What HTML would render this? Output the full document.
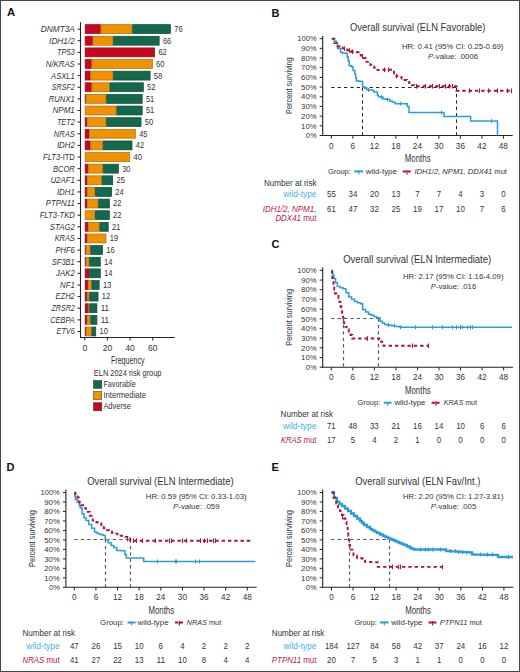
<!DOCTYPE html>
<html><head><meta charset="utf-8"><style>
html,body{margin:0;padding:0;background:#fff;}
body{width:520px;height:672px;overflow:hidden;}
svg{display:block;font-family:"Liberation Sans", sans-serif;}
</style></head><body>
<svg width="520" height="672" viewBox="0 0 520 672">
<rect x="0" y="0" width="520" height="672" fill="#fff"/>
<text x="7.1" y="16.2" font-size="11.3" font-weight="bold" fill="#111">A</text>
<line x1="80.50" y1="22.30" x2="80.50" y2="337.50" stroke="#222" stroke-width="1.1"/>
<line x1="80.00" y1="337.50" x2="174.70" y2="337.50" stroke="#222" stroke-width="1.1"/>
<line x1="77.50" y1="29.10" x2="80.50" y2="29.10" stroke="#222" stroke-width="1"/>
<text x="40.80" y="32.00" font-size="8.4" fill="#333" font-style="italic" textLength="34.00" lengthAdjust="spacingAndGlyphs">DNMT3A</text>
<rect x="85.15" y="24.65" width="15.15" height="8.90" fill="#c8061f" stroke="#8a0a1e" stroke-width="0.7"/>
<rect x="101.00" y="24.65" width="31.00" height="8.90" fill="#f09100" stroke="#b86a00" stroke-width="0.7"/>
<rect x="132.69" y="24.65" width="37.79" height="8.90" fill="#14684c" stroke="#0b4a35" stroke-width="0.7"/>
<text x="174.23" y="32.00" font-size="8.5" fill="#333" textLength="8.40" lengthAdjust="spacingAndGlyphs">76</text>
<line x1="77.50" y1="40.73" x2="80.50" y2="40.73" stroke="#222" stroke-width="1"/>
<text x="49.10" y="43.63" font-size="8.4" fill="#333" font-style="italic" textLength="25.70" lengthAdjust="spacingAndGlyphs">IDH1/2</text>
<rect x="85.15" y="36.28" width="7.22" height="8.90" fill="#c8061f" stroke="#8a0a1e" stroke-width="0.7"/>
<rect x="93.07" y="36.28" width="19.68" height="8.90" fill="#f09100" stroke="#b86a00" stroke-width="0.7"/>
<rect x="113.45" y="36.28" width="45.71" height="8.90" fill="#14684c" stroke="#0b4a35" stroke-width="0.7"/>
<text x="162.91" y="43.63" font-size="8.5" fill="#333" textLength="8.40" lengthAdjust="spacingAndGlyphs">66</text>
<line x1="77.50" y1="52.36" x2="80.50" y2="52.36" stroke="#222" stroke-width="1"/>
<text x="56.90" y="55.26" font-size="8.4" fill="#333" font-style="italic" textLength="17.90" lengthAdjust="spacingAndGlyphs">TP53</text>
<rect x="85.15" y="47.91" width="69.48" height="8.90" fill="#c8061f" stroke="#8a0a1e" stroke-width="0.7"/>
<text x="158.38" y="55.26" font-size="8.5" fill="#333" textLength="8.40" lengthAdjust="spacingAndGlyphs">62</text>
<line x1="77.50" y1="63.99" x2="80.50" y2="63.99" stroke="#222" stroke-width="1"/>
<text x="45.80" y="66.89" font-size="8.4" fill="#333" font-style="italic" textLength="29.00" lengthAdjust="spacingAndGlyphs">N/KRAS</text>
<rect x="85.15" y="59.54" width="6.09" height="8.90" fill="#c8061f" stroke="#8a0a1e" stroke-width="0.7"/>
<rect x="91.94" y="59.54" width="60.43" height="8.90" fill="#f09100" stroke="#b86a00" stroke-width="0.7"/>
<text x="156.12" y="66.89" font-size="8.5" fill="#333" textLength="8.40" lengthAdjust="spacingAndGlyphs">60</text>
<line x1="77.50" y1="75.62" x2="80.50" y2="75.62" stroke="#222" stroke-width="1"/>
<text x="51.10" y="78.52" font-size="8.4" fill="#333" font-style="italic" textLength="23.70" lengthAdjust="spacingAndGlyphs">ASXL1</text>
<rect x="85.15" y="71.17" width="4.96" height="8.90" fill="#c8061f" stroke="#8a0a1e" stroke-width="0.7"/>
<rect x="90.81" y="71.17" width="21.94" height="8.90" fill="#f09100" stroke="#b86a00" stroke-width="0.7"/>
<rect x="113.45" y="71.17" width="36.66" height="8.90" fill="#14684c" stroke="#0b4a35" stroke-width="0.7"/>
<text x="153.86" y="78.52" font-size="8.5" fill="#333" textLength="8.40" lengthAdjust="spacingAndGlyphs">58</text>
<line x1="77.50" y1="87.25" x2="80.50" y2="87.25" stroke="#222" stroke-width="1"/>
<text x="51.80" y="90.15" font-size="8.4" fill="#333" font-style="italic" textLength="23.00" lengthAdjust="spacingAndGlyphs">SRSF2</text>
<rect x="85.15" y="82.80" width="6.09" height="8.90" fill="#c8061f" stroke="#8a0a1e" stroke-width="0.7"/>
<rect x="91.94" y="82.80" width="17.41" height="8.90" fill="#f09100" stroke="#b86a00" stroke-width="0.7"/>
<rect x="110.05" y="82.80" width="33.26" height="8.90" fill="#14684c" stroke="#0b4a35" stroke-width="0.7"/>
<text x="147.06" y="90.15" font-size="8.5" fill="#333" textLength="8.40" lengthAdjust="spacingAndGlyphs">52</text>
<line x1="77.50" y1="98.88" x2="80.50" y2="98.88" stroke="#222" stroke-width="1"/>
<text x="48.80" y="101.78" font-size="8.4" fill="#333" font-style="italic" textLength="26.00" lengthAdjust="spacingAndGlyphs">RUNX1</text>
<rect x="85.15" y="94.43" width="0.43" height="8.90" fill="#c8061f" stroke="#8a0a1e" stroke-width="0.7"/>
<rect x="86.28" y="94.43" width="19.68" height="8.90" fill="#f09100" stroke="#b86a00" stroke-width="0.7"/>
<rect x="106.66" y="94.43" width="35.52" height="8.90" fill="#14684c" stroke="#0b4a35" stroke-width="0.7"/>
<text x="145.93" y="101.78" font-size="8.5" fill="#333" textLength="8.40" lengthAdjust="spacingAndGlyphs">51</text>
<line x1="77.50" y1="110.51" x2="80.50" y2="110.51" stroke="#222" stroke-width="1"/>
<text x="52.50" y="113.41" font-size="8.4" fill="#333" font-style="italic" textLength="22.30" lengthAdjust="spacingAndGlyphs">NPM1</text>
<rect x="85.15" y="106.06" width="31.00" height="8.90" fill="#f09100" stroke="#b86a00" stroke-width="0.7"/>
<rect x="116.85" y="106.06" width="25.34" height="8.90" fill="#14684c" stroke="#0b4a35" stroke-width="0.7"/>
<text x="145.93" y="113.41" font-size="8.5" fill="#333" textLength="8.40" lengthAdjust="spacingAndGlyphs">51</text>
<line x1="77.50" y1="122.14" x2="80.50" y2="122.14" stroke="#222" stroke-width="1"/>
<text x="56.90" y="125.04" font-size="8.4" fill="#333" font-style="italic" textLength="17.90" lengthAdjust="spacingAndGlyphs">TET2</text>
<rect x="85.15" y="117.69" width="1.56" height="8.90" fill="#c8061f" stroke="#8a0a1e" stroke-width="0.7"/>
<rect x="87.41" y="117.69" width="18.54" height="8.90" fill="#f09100" stroke="#b86a00" stroke-width="0.7"/>
<rect x="106.66" y="117.69" width="34.39" height="8.90" fill="#14684c" stroke="#0b4a35" stroke-width="0.7"/>
<text x="144.80" y="125.04" font-size="8.5" fill="#333" textLength="8.40" lengthAdjust="spacingAndGlyphs">50</text>
<line x1="77.50" y1="133.77" x2="80.50" y2="133.77" stroke="#222" stroke-width="1"/>
<text x="53.80" y="136.67" font-size="8.4" fill="#333" font-style="italic" textLength="21.00" lengthAdjust="spacingAndGlyphs">NRAS</text>
<rect x="85.15" y="129.32" width="3.83" height="8.90" fill="#c8061f" stroke="#8a0a1e" stroke-width="0.7"/>
<rect x="89.68" y="129.32" width="45.71" height="8.90" fill="#f09100" stroke="#b86a00" stroke-width="0.7"/>
<text x="139.14" y="136.67" font-size="8.5" fill="#333" textLength="8.40" lengthAdjust="spacingAndGlyphs">45</text>
<line x1="77.50" y1="145.40" x2="80.50" y2="145.40" stroke="#222" stroke-width="1"/>
<text x="56.90" y="148.30" font-size="8.4" fill="#333" font-style="italic" textLength="17.90" lengthAdjust="spacingAndGlyphs">IDH2</text>
<rect x="85.15" y="140.95" width="4.96" height="8.90" fill="#c8061f" stroke="#8a0a1e" stroke-width="0.7"/>
<rect x="90.81" y="140.95" width="11.75" height="8.90" fill="#f09100" stroke="#b86a00" stroke-width="0.7"/>
<rect x="103.26" y="140.95" width="28.73" height="8.90" fill="#14684c" stroke="#0b4a35" stroke-width="0.7"/>
<text x="135.74" y="148.30" font-size="8.5" fill="#333" textLength="8.40" lengthAdjust="spacingAndGlyphs">42</text>
<line x1="77.50" y1="157.03" x2="80.50" y2="157.03" stroke="#222" stroke-width="1"/>
<text x="43.10" y="159.93" font-size="8.4" fill="#333" font-style="italic" textLength="31.70" lengthAdjust="spacingAndGlyphs">FLT3<tspan font-style="normal">-ITD</tspan></text>
<rect x="85.15" y="152.58" width="44.58" height="8.90" fill="#f09100" stroke="#b86a00" stroke-width="0.7"/>
<text x="133.48" y="159.93" font-size="8.5" fill="#333" textLength="8.40" lengthAdjust="spacingAndGlyphs">40</text>
<line x1="77.50" y1="168.66" x2="80.50" y2="168.66" stroke="#222" stroke-width="1"/>
<text x="52.90" y="171.56" font-size="8.4" fill="#333" font-style="italic" textLength="21.90" lengthAdjust="spacingAndGlyphs">BCOR</text>
<rect x="85.15" y="164.21" width="2.70" height="8.90" fill="#c8061f" stroke="#8a0a1e" stroke-width="0.7"/>
<rect x="88.55" y="164.21" width="14.02" height="8.90" fill="#f09100" stroke="#b86a00" stroke-width="0.7"/>
<rect x="103.26" y="164.21" width="15.15" height="8.90" fill="#14684c" stroke="#0b4a35" stroke-width="0.7"/>
<text x="122.16" y="171.56" font-size="8.5" fill="#333" textLength="8.40" lengthAdjust="spacingAndGlyphs">30</text>
<line x1="77.50" y1="180.29" x2="80.50" y2="180.29" stroke="#222" stroke-width="1"/>
<text x="50.40" y="183.19" font-size="8.4" fill="#333" font-style="italic" textLength="24.40" lengthAdjust="spacingAndGlyphs">U2AF1</text>
<rect x="85.15" y="175.84" width="1.56" height="8.90" fill="#c8061f" stroke="#8a0a1e" stroke-width="0.7"/>
<rect x="87.41" y="175.84" width="14.02" height="8.90" fill="#f09100" stroke="#b86a00" stroke-width="0.7"/>
<rect x="102.13" y="175.84" width="10.62" height="8.90" fill="#14684c" stroke="#0b4a35" stroke-width="0.7"/>
<text x="116.50" y="183.19" font-size="8.5" fill="#333" textLength="8.40" lengthAdjust="spacingAndGlyphs">25</text>
<line x1="77.50" y1="191.92" x2="80.50" y2="191.92" stroke="#222" stroke-width="1"/>
<text x="56.90" y="194.82" font-size="8.4" fill="#333" font-style="italic" textLength="17.90" lengthAdjust="spacingAndGlyphs">IDH1</text>
<rect x="85.15" y="187.47" width="1.56" height="8.90" fill="#c8061f" stroke="#8a0a1e" stroke-width="0.7"/>
<rect x="87.41" y="187.47" width="7.22" height="8.90" fill="#f09100" stroke="#b86a00" stroke-width="0.7"/>
<rect x="95.34" y="187.47" width="16.28" height="8.90" fill="#14684c" stroke="#0b4a35" stroke-width="0.7"/>
<text x="115.37" y="194.82" font-size="8.5" fill="#333" textLength="8.40" lengthAdjust="spacingAndGlyphs">24</text>
<line x1="77.50" y1="203.55" x2="80.50" y2="203.55" stroke="#222" stroke-width="1"/>
<text x="45.80" y="206.45" font-size="8.4" fill="#333" font-style="italic" textLength="29.00" lengthAdjust="spacingAndGlyphs">PTPN11</text>
<rect x="85.15" y="199.10" width="1.56" height="8.90" fill="#c8061f" stroke="#8a0a1e" stroke-width="0.7"/>
<rect x="87.41" y="199.10" width="10.62" height="8.90" fill="#f09100" stroke="#b86a00" stroke-width="0.7"/>
<rect x="98.73" y="199.10" width="10.62" height="8.90" fill="#14684c" stroke="#0b4a35" stroke-width="0.7"/>
<text x="113.10" y="206.45" font-size="8.5" fill="#333" textLength="8.40" lengthAdjust="spacingAndGlyphs">22</text>
<line x1="77.50" y1="215.18" x2="80.50" y2="215.18" stroke="#222" stroke-width="1"/>
<text x="39.70" y="218.08" font-size="8.4" fill="#333" font-style="italic" textLength="35.10" lengthAdjust="spacingAndGlyphs">FLT3-TKD</text>
<rect x="85.15" y="210.73" width="9.49" height="8.90" fill="#f09100" stroke="#b86a00" stroke-width="0.7"/>
<rect x="95.34" y="210.73" width="14.02" height="8.90" fill="#14684c" stroke="#0b4a35" stroke-width="0.7"/>
<text x="113.10" y="218.08" font-size="8.5" fill="#333" textLength="8.40" lengthAdjust="spacingAndGlyphs">22</text>
<line x1="77.50" y1="226.81" x2="80.50" y2="226.81" stroke="#222" stroke-width="1"/>
<text x="49.80" y="229.71" font-size="8.4" fill="#333" font-style="italic" textLength="25.00" lengthAdjust="spacingAndGlyphs">STAG2</text>
<rect x="85.15" y="222.36" width="2.70" height="8.90" fill="#c8061f" stroke="#8a0a1e" stroke-width="0.7"/>
<rect x="88.55" y="222.36" width="10.62" height="8.90" fill="#f09100" stroke="#b86a00" stroke-width="0.7"/>
<rect x="99.87" y="222.36" width="8.36" height="8.90" fill="#14684c" stroke="#0b4a35" stroke-width="0.7"/>
<text x="111.97" y="229.71" font-size="8.5" fill="#333" textLength="8.40" lengthAdjust="spacingAndGlyphs">21</text>
<line x1="77.50" y1="238.44" x2="80.50" y2="238.44" stroke="#222" stroke-width="1"/>
<text x="54.70" y="241.34" font-size="8.4" fill="#333" font-style="italic" textLength="20.10" lengthAdjust="spacingAndGlyphs">KRAS</text>
<rect x="85.15" y="233.99" width="1.56" height="8.90" fill="#c8061f" stroke="#8a0a1e" stroke-width="0.7"/>
<rect x="87.41" y="233.99" width="18.54" height="8.90" fill="#f09100" stroke="#b86a00" stroke-width="0.7"/>
<text x="109.71" y="241.34" font-size="8.5" fill="#333" textLength="8.40" lengthAdjust="spacingAndGlyphs">19</text>
<line x1="77.50" y1="250.07" x2="80.50" y2="250.07" stroke="#222" stroke-width="1"/>
<text x="55.50" y="252.97" font-size="8.4" fill="#333" font-style="italic" textLength="19.30" lengthAdjust="spacingAndGlyphs">PHF6</text>
<rect x="85.15" y="245.62" width="0.43" height="8.90" fill="#c8061f" stroke="#8a0a1e" stroke-width="0.7"/>
<rect x="86.28" y="245.62" width="3.83" height="8.90" fill="#f09100" stroke="#b86a00" stroke-width="0.7"/>
<rect x="90.81" y="245.62" width="11.75" height="8.90" fill="#14684c" stroke="#0b4a35" stroke-width="0.7"/>
<text x="106.31" y="252.97" font-size="8.5" fill="#333" textLength="8.40" lengthAdjust="spacingAndGlyphs">16</text>
<line x1="77.50" y1="261.70" x2="80.50" y2="261.70" stroke="#222" stroke-width="1"/>
<text x="51.80" y="264.60" font-size="8.4" fill="#333" font-style="italic" textLength="23.00" lengthAdjust="spacingAndGlyphs">SF3B1</text>
<rect x="85.15" y="257.25" width="0.43" height="8.90" fill="#c8061f" stroke="#8a0a1e" stroke-width="0.7"/>
<rect x="86.28" y="257.25" width="2.70" height="8.90" fill="#f09100" stroke="#b86a00" stroke-width="0.7"/>
<rect x="89.68" y="257.25" width="10.62" height="8.90" fill="#14684c" stroke="#0b4a35" stroke-width="0.7"/>
<text x="104.05" y="264.60" font-size="8.5" fill="#333" textLength="8.40" lengthAdjust="spacingAndGlyphs">14</text>
<line x1="77.50" y1="273.33" x2="80.50" y2="273.33" stroke="#222" stroke-width="1"/>
<text x="56.10" y="276.23" font-size="8.4" fill="#333" font-style="italic" textLength="18.70" lengthAdjust="spacingAndGlyphs">JAK2</text>
<rect x="85.15" y="268.88" width="3.83" height="8.90" fill="#c8061f" stroke="#8a0a1e" stroke-width="0.7"/>
<rect x="89.68" y="268.88" width="10.62" height="8.90" fill="#14684c" stroke="#0b4a35" stroke-width="0.7"/>
<text x="104.05" y="276.23" font-size="8.5" fill="#333" textLength="8.40" lengthAdjust="spacingAndGlyphs">14</text>
<line x1="77.50" y1="284.96" x2="80.50" y2="284.96" stroke="#222" stroke-width="1"/>
<text x="60.10" y="287.86" font-size="8.4" fill="#333" font-style="italic" textLength="14.70" lengthAdjust="spacingAndGlyphs">NF1</text>
<rect x="85.15" y="280.51" width="2.70" height="8.90" fill="#c8061f" stroke="#8a0a1e" stroke-width="0.7"/>
<rect x="88.55" y="280.51" width="2.70" height="8.90" fill="#f09100" stroke="#b86a00" stroke-width="0.7"/>
<rect x="91.94" y="280.51" width="7.22" height="8.90" fill="#14684c" stroke="#0b4a35" stroke-width="0.7"/>
<text x="102.92" y="287.86" font-size="8.5" fill="#333" textLength="8.40" lengthAdjust="spacingAndGlyphs">13</text>
<line x1="77.50" y1="296.59" x2="80.50" y2="296.59" stroke="#222" stroke-width="1"/>
<text x="55.50" y="299.49" font-size="8.4" fill="#333" font-style="italic" textLength="19.30" lengthAdjust="spacingAndGlyphs">EZH2</text>
<rect x="85.15" y="292.14" width="1.56" height="8.90" fill="#c8061f" stroke="#8a0a1e" stroke-width="0.7"/>
<rect x="87.41" y="292.14" width="1.56" height="8.90" fill="#f09100" stroke="#b86a00" stroke-width="0.7"/>
<rect x="89.68" y="292.14" width="8.36" height="8.90" fill="#14684c" stroke="#0b4a35" stroke-width="0.7"/>
<text x="101.78" y="299.49" font-size="8.5" fill="#333" textLength="8.40" lengthAdjust="spacingAndGlyphs">12</text>
<line x1="77.50" y1="308.22" x2="80.50" y2="308.22" stroke="#222" stroke-width="1"/>
<text x="51.50" y="311.12" font-size="8.4" fill="#333" font-style="italic" textLength="23.30" lengthAdjust="spacingAndGlyphs">ZRSR2</text>
<rect x="85.15" y="303.77" width="2.70" height="8.90" fill="#c8061f" stroke="#8a0a1e" stroke-width="0.7"/>
<rect x="88.55" y="303.77" width="0.43" height="8.90" fill="#f09100" stroke="#b86a00" stroke-width="0.7"/>
<rect x="89.68" y="303.77" width="7.22" height="8.90" fill="#14684c" stroke="#0b4a35" stroke-width="0.7"/>
<text x="100.65" y="311.12" font-size="8.5" fill="#333" textLength="8.40" lengthAdjust="spacingAndGlyphs">11</text>
<line x1="77.50" y1="319.85" x2="80.50" y2="319.85" stroke="#222" stroke-width="1"/>
<text x="50.20" y="322.75" font-size="8.4" fill="#333" font-style="italic" textLength="24.60" lengthAdjust="spacingAndGlyphs">CEBPA</text>
<rect x="85.15" y="315.40" width="1.56" height="8.90" fill="#c8061f" stroke="#8a0a1e" stroke-width="0.7"/>
<rect x="87.41" y="315.40" width="2.70" height="8.90" fill="#f09100" stroke="#b86a00" stroke-width="0.7"/>
<rect x="90.81" y="315.40" width="6.09" height="8.90" fill="#14684c" stroke="#0b4a35" stroke-width="0.7"/>
<text x="100.65" y="322.75" font-size="8.5" fill="#333" textLength="8.40" lengthAdjust="spacingAndGlyphs">11</text>
<line x1="77.50" y1="331.48" x2="80.50" y2="331.48" stroke="#222" stroke-width="1"/>
<text x="56.50" y="334.38" font-size="8.4" fill="#333" font-style="italic" textLength="18.30" lengthAdjust="spacingAndGlyphs">ETV6</text>
<rect x="85.15" y="327.03" width="0.43" height="8.90" fill="#c8061f" stroke="#8a0a1e" stroke-width="0.7"/>
<rect x="86.28" y="327.03" width="4.96" height="8.90" fill="#f09100" stroke="#b86a00" stroke-width="0.7"/>
<rect x="91.94" y="327.03" width="3.83" height="8.90" fill="#14684c" stroke="#0b4a35" stroke-width="0.7"/>
<text x="99.52" y="334.38" font-size="8.5" fill="#333" textLength="8.40" lengthAdjust="spacingAndGlyphs">10</text>
<line x1="84.80" y1="337.50" x2="84.80" y2="340.50" stroke="#222" stroke-width="1"/>
<text x="84.80" y="350.90" font-size="8.6" fill="#333" text-anchor="middle">0</text>
<line x1="107.44" y1="337.50" x2="107.44" y2="340.50" stroke="#222" stroke-width="1"/>
<text x="107.44" y="350.90" font-size="8.6" fill="#333" text-anchor="middle">20</text>
<line x1="130.08" y1="337.50" x2="130.08" y2="340.50" stroke="#222" stroke-width="1"/>
<text x="130.08" y="350.90" font-size="8.6" fill="#333" text-anchor="middle">40</text>
<line x1="152.72" y1="337.50" x2="152.72" y2="340.50" stroke="#222" stroke-width="1"/>
<text x="152.72" y="350.90" font-size="8.6" fill="#333" text-anchor="middle">60</text>
<text x="110.90" y="363.80" font-size="10.8" fill="#333" textLength="33.70" lengthAdjust="spacingAndGlyphs">Frequency</text>
<text x="93.80" y="376.10" font-size="8.2" fill="#333" textLength="67.70" lengthAdjust="spacingAndGlyphs">ELN 2024 risk group</text>
<rect x="93.40" y="380.40" width="8.40" height="8.00" fill="#14684c" stroke="#333" stroke-width="0.5"/>
<text x="103.40" y="386.80" font-size="8.4" fill="#333" textLength="32.30" lengthAdjust="spacingAndGlyphs">Favorable</text>
<rect x="93.40" y="391.50" width="8.40" height="8.10" fill="#f09100" stroke="#333" stroke-width="0.5"/>
<text x="103.40" y="398.00" font-size="8.4" fill="#333" textLength="42.60" lengthAdjust="spacingAndGlyphs">Intermediate</text>
<rect x="93.40" y="402.70" width="8.40" height="8.10" fill="#c8061f" stroke="#333" stroke-width="0.5"/>
<text x="103.40" y="408.80" font-size="8.4" fill="#333" textLength="27.40" lengthAdjust="spacingAndGlyphs">Adverse</text>
<text x="271.60" y="16.70" font-size="11" font-weight="bold" fill="#111">B</text>
<text x="350.00" y="30.80" font-size="10.5" fill="#333" textLength="135.40" lengthAdjust="spacingAndGlyphs">Overall survival (ELN Favorable)</text>
<text x="401.90" y="49.40" font-size="8.0" fill="#333" textLength="101.60" lengthAdjust="spacingAndGlyphs">HR: 0.41 (95% CI: 0.25-0.69)</text>
<text x="428.00" y="59.10" font-size="8.0" fill="#333" textLength="50.10" lengthAdjust="spacingAndGlyphs"><tspan font-style="italic">P</tspan>-value: .0006</text>
<line x1="322.70" y1="35.65" x2="322.70" y2="135.50" stroke="#222" stroke-width="1.1"/>
<line x1="322.20" y1="135.50" x2="512.70" y2="135.50" stroke="#222" stroke-width="1.1"/>
<line x1="319.70" y1="135.50" x2="322.70" y2="135.50" stroke="#222" stroke-width="1"/>
<text x="305.80" y="138.20" font-size="7.9" fill="#333" textLength="10.80" lengthAdjust="spacingAndGlyphs">0%</text>
<line x1="319.70" y1="125.81" x2="322.70" y2="125.81" stroke="#222" stroke-width="1"/>
<text x="301.10" y="128.51" font-size="7.9" fill="#333" textLength="15.50" lengthAdjust="spacingAndGlyphs">10%</text>
<line x1="319.70" y1="116.13" x2="322.70" y2="116.13" stroke="#222" stroke-width="1"/>
<text x="301.10" y="118.83" font-size="7.9" fill="#333" textLength="15.50" lengthAdjust="spacingAndGlyphs">20%</text>
<line x1="319.70" y1="106.44" x2="322.70" y2="106.44" stroke="#222" stroke-width="1"/>
<text x="301.10" y="109.14" font-size="7.9" fill="#333" textLength="15.50" lengthAdjust="spacingAndGlyphs">30%</text>
<line x1="319.70" y1="96.76" x2="322.70" y2="96.76" stroke="#222" stroke-width="1"/>
<text x="301.10" y="99.46" font-size="7.9" fill="#333" textLength="15.50" lengthAdjust="spacingAndGlyphs">40%</text>
<line x1="319.70" y1="87.08" x2="322.70" y2="87.08" stroke="#222" stroke-width="1"/>
<text x="301.10" y="89.78" font-size="7.9" fill="#333" textLength="15.50" lengthAdjust="spacingAndGlyphs">50%</text>
<line x1="319.70" y1="77.39" x2="322.70" y2="77.39" stroke="#222" stroke-width="1"/>
<text x="301.10" y="80.09" font-size="7.9" fill="#333" textLength="15.50" lengthAdjust="spacingAndGlyphs">60%</text>
<line x1="319.70" y1="67.70" x2="322.70" y2="67.70" stroke="#222" stroke-width="1"/>
<text x="301.10" y="70.41" font-size="7.9" fill="#333" textLength="15.50" lengthAdjust="spacingAndGlyphs">70%</text>
<line x1="319.70" y1="58.02" x2="322.70" y2="58.02" stroke="#222" stroke-width="1"/>
<text x="301.10" y="60.72" font-size="7.9" fill="#333" textLength="15.50" lengthAdjust="spacingAndGlyphs">80%</text>
<line x1="319.70" y1="48.33" x2="322.70" y2="48.33" stroke="#222" stroke-width="1"/>
<text x="301.10" y="51.03" font-size="7.9" fill="#333" textLength="15.50" lengthAdjust="spacingAndGlyphs">90%</text>
<line x1="319.70" y1="38.65" x2="322.70" y2="38.65" stroke="#222" stroke-width="1"/>
<text x="297.30" y="41.35" font-size="7.9" fill="#333" textLength="19.30" lengthAdjust="spacingAndGlyphs">100%</text>
<line x1="331.40" y1="135.50" x2="331.40" y2="138.70" stroke="#222" stroke-width="1"/>
<text x="331.40" y="148.60" font-size="8.2" fill="#333" text-anchor="middle">0</text>
<line x1="352.90" y1="135.50" x2="352.90" y2="138.70" stroke="#222" stroke-width="1"/>
<text x="352.90" y="148.60" font-size="8.2" fill="#333" text-anchor="middle">6</text>
<line x1="374.40" y1="135.50" x2="374.40" y2="138.70" stroke="#222" stroke-width="1"/>
<text x="374.40" y="148.60" font-size="8.2" fill="#333" text-anchor="middle">12</text>
<line x1="395.89" y1="135.50" x2="395.89" y2="138.70" stroke="#222" stroke-width="1"/>
<text x="395.89" y="148.60" font-size="8.2" fill="#333" text-anchor="middle">18</text>
<line x1="417.39" y1="135.50" x2="417.39" y2="138.70" stroke="#222" stroke-width="1"/>
<text x="417.39" y="148.60" font-size="8.2" fill="#333" text-anchor="middle">24</text>
<line x1="438.89" y1="135.50" x2="438.89" y2="138.70" stroke="#222" stroke-width="1"/>
<text x="438.89" y="148.60" font-size="8.2" fill="#333" text-anchor="middle">30</text>
<line x1="460.39" y1="135.50" x2="460.39" y2="138.70" stroke="#222" stroke-width="1"/>
<text x="460.39" y="148.60" font-size="8.2" fill="#333" text-anchor="middle">36</text>
<line x1="481.89" y1="135.50" x2="481.89" y2="138.70" stroke="#222" stroke-width="1"/>
<text x="481.89" y="148.60" font-size="8.2" fill="#333" text-anchor="middle">42</text>
<line x1="503.38" y1="135.50" x2="503.38" y2="138.70" stroke="#222" stroke-width="1"/>
<text x="503.38" y="148.60" font-size="8.2" fill="#333" text-anchor="middle">48</text>
<text x="0" y="0" font-size="9" fill="#333" text-anchor="middle" textLength="56.8" lengthAdjust="spacingAndGlyphs" transform="translate(291.80,85.67) rotate(-90)">Percent surviving</text>
<text x="404.85" y="161.80" font-size="10.8" fill="#333" textLength="25.70" lengthAdjust="spacingAndGlyphs">Months</text>
<text x="328.00" y="173.80" font-size="8.0" fill="#333" textLength="22.80" lengthAdjust="spacingAndGlyphs">Group:</text>
<line x1="354.20" y1="171.40" x2="363.30" y2="171.40" stroke="#2a9dd6" stroke-width="2.0"/>
<line x1="358.75" y1="171.40" x2="358.75" y2="174.20" stroke="#2a9dd6" stroke-width="1.2"/>
<text x="365.80" y="173.80" font-size="8.0" fill="#333" textLength="31.10" lengthAdjust="spacingAndGlyphs">wild-type</text>
<line x1="402.70" y1="171.40" x2="411.20" y2="171.40" stroke="#b0113a" stroke-width="2.0" stroke-dasharray="3.4,1.2"/>
<line x1="406.95" y1="170.00" x2="406.95" y2="174.40" stroke="#b0113a" stroke-width="1.2"/>
<text x="414.50" y="173.80" font-size="8.0" fill="#333" textLength="92.50" lengthAdjust="spacingAndGlyphs"><tspan font-style="italic">IDH1/2, NPM1, DDX41</tspan> mut</text>
<text x="264.00" y="185.50" font-size="8.3" fill="#333" textLength="52.50" lengthAdjust="spacingAndGlyphs">Number at risk</text>
<text x="283.60" y="197.10" font-size="8.8" fill="#3fb1e3" textLength="32.80" lengthAdjust="spacingAndGlyphs">wild-type</text>
<text x="262.80" y="211.50" font-size="8.8" fill="#b8163e" textLength="53.60" lengthAdjust="spacingAndGlyphs"><tspan font-style="italic">IDH1/2, NPM1,</tspan></text>
<text x="275.40" y="220.70" font-size="8.8" fill="#b8163e" textLength="41.00" lengthAdjust="spacingAndGlyphs"><tspan font-style="italic">DDX41</tspan> mut</text>
<text x="327.00" y="197.10" font-size="9.2" fill="#333" textLength="8.80" lengthAdjust="spacingAndGlyphs">55</text>
<text x="348.50" y="197.10" font-size="9.2" fill="#333" textLength="8.80" lengthAdjust="spacingAndGlyphs">34</text>
<text x="370.00" y="197.10" font-size="9.2" fill="#333" textLength="8.80" lengthAdjust="spacingAndGlyphs">20</text>
<text x="391.49" y="197.10" font-size="9.2" fill="#333" textLength="8.80" lengthAdjust="spacingAndGlyphs">13</text>
<text x="415.19" y="197.10" font-size="9.2" fill="#333" textLength="4.40" lengthAdjust="spacingAndGlyphs">7</text>
<text x="436.69" y="197.10" font-size="9.2" fill="#333" textLength="4.40" lengthAdjust="spacingAndGlyphs">7</text>
<text x="458.19" y="197.10" font-size="9.2" fill="#333" textLength="4.40" lengthAdjust="spacingAndGlyphs">4</text>
<text x="479.69" y="197.10" font-size="9.2" fill="#333" textLength="4.40" lengthAdjust="spacingAndGlyphs">3</text>
<text x="501.18" y="197.10" font-size="9.2" fill="#333" textLength="4.40" lengthAdjust="spacingAndGlyphs">0</text>
<text x="327.00" y="211.50" font-size="9.2" fill="#333" textLength="8.80" lengthAdjust="spacingAndGlyphs">61</text>
<text x="348.50" y="211.50" font-size="9.2" fill="#333" textLength="8.80" lengthAdjust="spacingAndGlyphs">47</text>
<text x="370.00" y="211.50" font-size="9.2" fill="#333" textLength="8.80" lengthAdjust="spacingAndGlyphs">32</text>
<text x="391.49" y="211.50" font-size="9.2" fill="#333" textLength="8.80" lengthAdjust="spacingAndGlyphs">25</text>
<text x="412.99" y="211.50" font-size="9.2" fill="#333" textLength="8.80" lengthAdjust="spacingAndGlyphs">19</text>
<text x="434.49" y="211.50" font-size="9.2" fill="#333" textLength="8.80" lengthAdjust="spacingAndGlyphs">17</text>
<text x="455.99" y="211.50" font-size="9.2" fill="#333" textLength="8.80" lengthAdjust="spacingAndGlyphs">10</text>
<text x="479.69" y="211.50" font-size="9.2" fill="#333" textLength="4.40" lengthAdjust="spacingAndGlyphs">7</text>
<text x="501.18" y="211.50" font-size="9.2" fill="#333" textLength="4.40" lengthAdjust="spacingAndGlyphs">6</text>
<line x1="331.20" y1="87.50" x2="456.50" y2="87.50" stroke="#222" stroke-width="1.0" stroke-dasharray="3.3,3.1"/>
<line x1="362.50" y1="87.50" x2="362.50" y2="135.50" stroke="#222" stroke-width="1.0" stroke-dasharray="3.3,3.1"/>
<line x1="456.50" y1="87.50" x2="456.50" y2="135.50" stroke="#222" stroke-width="1.0" stroke-dasharray="3.3,3.1"/>
<path d="M331.80,38.80 L334.25,38.80 L334.25,41.20 L336.70,41.20 L336.70,43.60 L337.60,43.60 L337.60,48.40 L340.50,48.40 L340.50,52.30 L342.40,52.30 L342.40,53.20 L345.80,53.20 L347.20,53.20 L347.20,57.10 L348.20,57.10 L348.20,60.90 L349.20,60.90 L349.20,65.70 L351.60,65.70 L351.60,66.70 L353.00,66.70 L353.00,70.50 L354.90,70.50 L354.90,74.40 L355.65,74.40 L355.65,77.75 L356.40,77.75 L356.40,81.10 L359.05,81.10 L359.05,81.35 L361.70,81.35 L361.70,81.60 L362.60,81.60 L362.60,86.90 L364.75,86.90 L364.75,88.35 L366.90,88.35 L366.90,89.80 L369.80,89.80 L369.80,90.10 L372.70,90.10 L372.70,90.40 L373.80,90.40 L373.80,92.10 L377.30,92.10 L377.30,95.00 L378.50,95.00 L378.50,96.70 L380.50,96.70 L380.50,97.00 L382.50,97.00 L382.50,97.30 L383.10,97.30 L383.10,99.00 L385.95,99.00 L385.95,99.30 L388.80,99.30 L388.80,99.60 L390.00,99.60 L390.00,101.30 L392.30,101.30 L392.30,101.90 L394.60,101.90 L394.60,102.50 L395.20,102.50 L395.20,103.70 L406.20,103.70 L407.30,103.70 L407.30,106.50 L409.00,106.50 L409.00,112.50 L444.00,112.50 L444.00,116.60 L470.60,116.60 L470.60,121.00 L497.50,121.00 L497.50,135.50" fill="none" stroke="#2a9dd6" stroke-width="1.5" stroke-linejoin="miter"/>
<line x1="368.50" y1="88.00" x2="368.50" y2="92.00" stroke="#2a9dd6" stroke-width="1.0"/>
<line x1="381.50" y1="95.00" x2="381.50" y2="99.00" stroke="#2a9dd6" stroke-width="1.0"/>
<line x1="387.50" y1="97.60" x2="387.50" y2="101.60" stroke="#2a9dd6" stroke-width="1.0"/>
<line x1="400.50" y1="101.70" x2="400.50" y2="105.70" stroke="#2a9dd6" stroke-width="1.0"/>
<line x1="441.50" y1="110.50" x2="441.50" y2="114.50" stroke="#2a9dd6" stroke-width="1.0"/>
<line x1="491.50" y1="119.00" x2="491.50" y2="123.00" stroke="#2a9dd6" stroke-width="1.0"/>
<path d="M331.80,38.80 L334.30,38.80 L334.30,43.10 L337.60,43.10 L337.60,46.50 L340.00,46.50 L340.00,47.45 L342.40,47.45 L342.40,48.40 L344.80,48.40 L344.80,49.35 L347.20,49.35 L347.20,50.30 L349.15,50.30 L349.15,51.05 L351.10,51.05 L351.10,51.80 L353.95,51.80 L353.95,52.05 L356.80,52.05 L356.80,52.30 L360.70,52.30 L360.70,55.60 L363.60,55.60 L363.60,58.00 L366.50,58.00 L366.50,61.90 L370.30,61.90 L370.30,64.80 L374.20,64.80 L374.20,67.70 L377.50,67.70 L377.50,70.10 L381.50,69.80 L392.00,69.80 L394.00,69.80 L394.00,75.20 L396.40,75.20 L396.40,76.15 L398.80,76.15 L398.80,77.10 L401.70,77.10 L401.70,78.55 L404.60,78.55 L404.60,80.00 L407.00,80.00 L407.00,82.10 L409.40,82.10 L409.40,84.20 L411.80,84.20 L411.80,85.25 L414.20,85.25 L414.20,86.30 L456.50,86.30 L456.50,90.70 L512.00,90.70" fill="none" stroke="#b0113a" stroke-width="1.9" stroke-dasharray="3.4,2.9"/>
<line x1="344.50" y1="46.30" x2="344.50" y2="50.90" stroke="#b0113a" stroke-width="1.1"/>
<line x1="349.50" y1="48.20" x2="349.50" y2="52.80" stroke="#b0113a" stroke-width="1.1"/>
<line x1="352.50" y1="49.50" x2="352.50" y2="54.10" stroke="#b0113a" stroke-width="1.1"/>
<line x1="362.50" y1="54.00" x2="362.50" y2="58.60" stroke="#b0113a" stroke-width="1.1"/>
<line x1="384.50" y1="67.50" x2="384.50" y2="72.10" stroke="#b0113a" stroke-width="1.1"/>
<line x1="388.50" y1="67.50" x2="388.50" y2="72.10" stroke="#b0113a" stroke-width="1.1"/>
<line x1="396.50" y1="73.70" x2="396.50" y2="78.30" stroke="#b0113a" stroke-width="1.1"/>
<line x1="416.50" y1="84.00" x2="416.50" y2="88.60" stroke="#b0113a" stroke-width="1.1"/>
<line x1="425.50" y1="84.00" x2="425.50" y2="88.60" stroke="#b0113a" stroke-width="1.1"/>
<line x1="432.50" y1="84.00" x2="432.50" y2="88.60" stroke="#b0113a" stroke-width="1.1"/>
<line x1="439.50" y1="84.00" x2="439.50" y2="88.60" stroke="#b0113a" stroke-width="1.1"/>
<line x1="445.50" y1="84.00" x2="445.50" y2="88.60" stroke="#b0113a" stroke-width="1.1"/>
<line x1="449.50" y1="84.00" x2="449.50" y2="88.60" stroke="#b0113a" stroke-width="1.1"/>
<line x1="452.50" y1="84.00" x2="452.50" y2="88.60" stroke="#b0113a" stroke-width="1.1"/>
<line x1="469.50" y1="88.40" x2="469.50" y2="93.00" stroke="#b0113a" stroke-width="1.1"/>
<line x1="479.50" y1="88.40" x2="479.50" y2="93.00" stroke="#b0113a" stroke-width="1.1"/>
<line x1="488.50" y1="88.40" x2="488.50" y2="93.00" stroke="#b0113a" stroke-width="1.1"/>
<line x1="497.50" y1="88.40" x2="497.50" y2="93.00" stroke="#b0113a" stroke-width="1.1"/>
<line x1="507.50" y1="88.40" x2="507.50" y2="93.00" stroke="#b0113a" stroke-width="1.1"/>
<line x1="511.50" y1="88.40" x2="511.50" y2="93.00" stroke="#b0113a" stroke-width="1.1"/>
<text x="271.60" y="248.40" font-size="11" font-weight="bold" fill="#111">C</text>
<text x="343.20" y="262.70" font-size="10.5" fill="#333" textLength="148.00" lengthAdjust="spacingAndGlyphs">Overall survival (ELN Intermediate)</text>
<text x="403.00" y="279.40" font-size="8.0" fill="#333" textLength="100.50" lengthAdjust="spacingAndGlyphs">HR: 2.17 (95% CI: 1.16-4.09)</text>
<text x="430.80" y="289.00" font-size="8.0" fill="#333" textLength="45.40" lengthAdjust="spacingAndGlyphs"><tspan font-style="italic">P</tspan>-value: .016</text>
<line x1="322.70" y1="267.40" x2="322.70" y2="367.20" stroke="#222" stroke-width="1.1"/>
<line x1="322.20" y1="367.20" x2="512.95" y2="367.20" stroke="#222" stroke-width="1.1"/>
<line x1="319.70" y1="367.20" x2="322.70" y2="367.20" stroke="#222" stroke-width="1"/>
<text x="305.80" y="369.90" font-size="7.9" fill="#333" textLength="10.80" lengthAdjust="spacingAndGlyphs">0%</text>
<line x1="319.70" y1="357.52" x2="322.70" y2="357.52" stroke="#222" stroke-width="1"/>
<text x="301.10" y="360.22" font-size="7.9" fill="#333" textLength="15.50" lengthAdjust="spacingAndGlyphs">10%</text>
<line x1="319.70" y1="347.84" x2="322.70" y2="347.84" stroke="#222" stroke-width="1"/>
<text x="301.10" y="350.54" font-size="7.9" fill="#333" textLength="15.50" lengthAdjust="spacingAndGlyphs">20%</text>
<line x1="319.70" y1="338.16" x2="322.70" y2="338.16" stroke="#222" stroke-width="1"/>
<text x="301.10" y="340.86" font-size="7.9" fill="#333" textLength="15.50" lengthAdjust="spacingAndGlyphs">30%</text>
<line x1="319.70" y1="328.48" x2="322.70" y2="328.48" stroke="#222" stroke-width="1"/>
<text x="301.10" y="331.18" font-size="7.9" fill="#333" textLength="15.50" lengthAdjust="spacingAndGlyphs">40%</text>
<line x1="319.70" y1="318.80" x2="322.70" y2="318.80" stroke="#222" stroke-width="1"/>
<text x="301.10" y="321.50" font-size="7.9" fill="#333" textLength="15.50" lengthAdjust="spacingAndGlyphs">50%</text>
<line x1="319.70" y1="309.12" x2="322.70" y2="309.12" stroke="#222" stroke-width="1"/>
<text x="301.10" y="311.82" font-size="7.9" fill="#333" textLength="15.50" lengthAdjust="spacingAndGlyphs">60%</text>
<line x1="319.70" y1="299.44" x2="322.70" y2="299.44" stroke="#222" stroke-width="1"/>
<text x="301.10" y="302.14" font-size="7.9" fill="#333" textLength="15.50" lengthAdjust="spacingAndGlyphs">70%</text>
<line x1="319.70" y1="289.76" x2="322.70" y2="289.76" stroke="#222" stroke-width="1"/>
<text x="301.10" y="292.46" font-size="7.9" fill="#333" textLength="15.50" lengthAdjust="spacingAndGlyphs">80%</text>
<line x1="319.70" y1="280.08" x2="322.70" y2="280.08" stroke="#222" stroke-width="1"/>
<text x="301.10" y="282.78" font-size="7.9" fill="#333" textLength="15.50" lengthAdjust="spacingAndGlyphs">90%</text>
<line x1="319.70" y1="270.40" x2="322.70" y2="270.40" stroke="#222" stroke-width="1"/>
<text x="297.30" y="273.10" font-size="7.9" fill="#333" textLength="19.30" lengthAdjust="spacingAndGlyphs">100%</text>
<line x1="331.30" y1="367.20" x2="331.30" y2="370.40" stroke="#222" stroke-width="1"/>
<text x="331.30" y="380.30" font-size="8.2" fill="#333" text-anchor="middle">0</text>
<line x1="352.84" y1="367.20" x2="352.84" y2="370.40" stroke="#222" stroke-width="1"/>
<text x="352.84" y="380.30" font-size="8.2" fill="#333" text-anchor="middle">6</text>
<line x1="374.38" y1="367.20" x2="374.38" y2="370.40" stroke="#222" stroke-width="1"/>
<text x="374.38" y="380.30" font-size="8.2" fill="#333" text-anchor="middle">12</text>
<line x1="395.92" y1="367.20" x2="395.92" y2="370.40" stroke="#222" stroke-width="1"/>
<text x="395.92" y="380.30" font-size="8.2" fill="#333" text-anchor="middle">18</text>
<line x1="417.46" y1="367.20" x2="417.46" y2="370.40" stroke="#222" stroke-width="1"/>
<text x="417.46" y="380.30" font-size="8.2" fill="#333" text-anchor="middle">24</text>
<line x1="439.00" y1="367.20" x2="439.00" y2="370.40" stroke="#222" stroke-width="1"/>
<text x="439.00" y="380.30" font-size="8.2" fill="#333" text-anchor="middle">30</text>
<line x1="460.54" y1="367.20" x2="460.54" y2="370.40" stroke="#222" stroke-width="1"/>
<text x="460.54" y="380.30" font-size="8.2" fill="#333" text-anchor="middle">36</text>
<line x1="482.08" y1="367.20" x2="482.08" y2="370.40" stroke="#222" stroke-width="1"/>
<text x="482.08" y="380.30" font-size="8.2" fill="#333" text-anchor="middle">42</text>
<line x1="503.62" y1="367.20" x2="503.62" y2="370.40" stroke="#222" stroke-width="1"/>
<text x="503.62" y="380.30" font-size="8.2" fill="#333" text-anchor="middle">48</text>
<text x="0" y="0" font-size="9" fill="#333" text-anchor="middle" textLength="56.8" lengthAdjust="spacingAndGlyphs" transform="translate(291.80,317.40) rotate(-90)">Percent surviving</text>
<text x="404.98" y="393.50" font-size="10.8" fill="#333" textLength="25.70" lengthAdjust="spacingAndGlyphs">Months</text>
<text x="357.50" y="405.10" font-size="8.0" fill="#333" textLength="22.70" lengthAdjust="spacingAndGlyphs">Group:</text>
<line x1="383.70" y1="402.70" x2="391.70" y2="402.70" stroke="#2a9dd6" stroke-width="2.0"/>
<line x1="387.70" y1="402.70" x2="387.70" y2="405.50" stroke="#2a9dd6" stroke-width="1.2"/>
<text x="394.40" y="405.10" font-size="8.0" fill="#333" textLength="31.00" lengthAdjust="spacingAndGlyphs">wild-type</text>
<line x1="431.60" y1="402.70" x2="440.20" y2="402.70" stroke="#b0113a" stroke-width="2.0" stroke-dasharray="3.4,1.2"/>
<line x1="435.90" y1="401.30" x2="435.90" y2="405.70" stroke="#b0113a" stroke-width="1.2"/>
<text x="443.70" y="405.10" font-size="8.0" fill="#333" textLength="33.40" lengthAdjust="spacingAndGlyphs"><tspan font-style="italic">KRAS</tspan> mut</text>
<text x="280.60" y="416.80" font-size="8.3" fill="#333" textLength="52.50" lengthAdjust="spacingAndGlyphs">Number at risk</text>
<text x="283.00" y="428.90" font-size="8.8" fill="#3fb1e3" textLength="33.40" lengthAdjust="spacingAndGlyphs">wild-type</text>
<text x="281.00" y="442.70" font-size="8.8" fill="#b8163e" textLength="35.40" lengthAdjust="spacingAndGlyphs"><tspan font-style="italic">KRAS</tspan> mut</text>
<text x="326.90" y="428.90" font-size="9.2" fill="#333" textLength="8.80" lengthAdjust="spacingAndGlyphs">71</text>
<text x="348.44" y="428.90" font-size="9.2" fill="#333" textLength="8.80" lengthAdjust="spacingAndGlyphs">48</text>
<text x="369.98" y="428.90" font-size="9.2" fill="#333" textLength="8.80" lengthAdjust="spacingAndGlyphs">33</text>
<text x="391.52" y="428.90" font-size="9.2" fill="#333" textLength="8.80" lengthAdjust="spacingAndGlyphs">21</text>
<text x="413.06" y="428.90" font-size="9.2" fill="#333" textLength="8.80" lengthAdjust="spacingAndGlyphs">16</text>
<text x="434.60" y="428.90" font-size="9.2" fill="#333" textLength="8.80" lengthAdjust="spacingAndGlyphs">14</text>
<text x="456.14" y="428.90" font-size="9.2" fill="#333" textLength="8.80" lengthAdjust="spacingAndGlyphs">10</text>
<text x="479.88" y="428.90" font-size="9.2" fill="#333" textLength="4.40" lengthAdjust="spacingAndGlyphs">6</text>
<text x="501.42" y="428.90" font-size="9.2" fill="#333" textLength="4.40" lengthAdjust="spacingAndGlyphs">6</text>
<text x="326.90" y="442.70" font-size="9.2" fill="#333" textLength="8.80" lengthAdjust="spacingAndGlyphs">17</text>
<text x="350.64" y="442.70" font-size="9.2" fill="#333" textLength="4.40" lengthAdjust="spacingAndGlyphs">5</text>
<text x="372.18" y="442.70" font-size="9.2" fill="#333" textLength="4.40" lengthAdjust="spacingAndGlyphs">4</text>
<text x="393.72" y="442.70" font-size="9.2" fill="#333" textLength="4.40" lengthAdjust="spacingAndGlyphs">2</text>
<text x="415.26" y="442.70" font-size="9.2" fill="#333" textLength="4.40" lengthAdjust="spacingAndGlyphs">1</text>
<text x="436.80" y="442.70" font-size="9.2" fill="#333" textLength="4.40" lengthAdjust="spacingAndGlyphs">0</text>
<text x="458.34" y="442.70" font-size="9.2" fill="#333" textLength="4.40" lengthAdjust="spacingAndGlyphs">0</text>
<text x="479.88" y="442.70" font-size="9.2" fill="#333" textLength="4.40" lengthAdjust="spacingAndGlyphs">0</text>
<text x="501.42" y="442.70" font-size="9.2" fill="#333" textLength="4.40" lengthAdjust="spacingAndGlyphs">0</text>
<line x1="331.20" y1="318.50" x2="378.50" y2="318.50" stroke="#5a5a5a" stroke-width="1.2" stroke-dasharray="3.3,3.1"/>
<line x1="343.50" y1="318.50" x2="343.50" y2="367.20" stroke="#5a5a5a" stroke-width="1.2" stroke-dasharray="3.3,3.1"/>
<line x1="378.50" y1="318.50" x2="378.50" y2="367.20" stroke="#5a5a5a" stroke-width="1.2" stroke-dasharray="3.3,3.1"/>
<path d="M331.50,271.50 L332.65,271.50 L332.65,275.00 L333.80,275.00 L333.80,278.50 L335.55,278.50 L335.55,282.50 L337.30,282.50 L337.30,286.50 L340.20,286.50 L340.20,287.65 L343.10,287.65 L343.10,288.80 L345.95,288.80 L345.95,292.85 L348.80,292.85 L348.80,296.90 L351.70,296.90 L351.70,299.20 L354.60,299.20 L354.60,301.50 L357.50,301.50 L357.50,302.65 L360.40,302.65 L360.40,303.80 L362.70,303.80 L362.70,309.60 L365.60,309.60 L365.60,311.90 L368.50,311.90 L368.50,314.20 L371.17,314.20 L371.17,315.37 L373.83,315.37 L373.83,316.53 L376.50,316.53 L376.50,317.70 L380.00,317.70 L380.00,321.20 L382.30,321.20 L382.30,322.90 L384.60,322.90 L384.60,324.60 L387.10,324.60 L387.10,324.98 L389.60,324.98 L389.60,325.37 L392.10,325.37 L392.10,325.75 L394.60,325.75 L394.60,326.13 L397.10,326.13 L397.10,326.52 L399.60,326.52 L399.60,326.90 L401.00,326.90 L401.00,327.30 L511.90,327.30" fill="none" stroke="#2a9dd6" stroke-width="1.5" stroke-linejoin="miter"/>
<line x1="400.50" y1="325.30" x2="400.50" y2="329.30" stroke="#2a9dd6" stroke-width="1.0"/>
<line x1="415.50" y1="325.30" x2="415.50" y2="329.30" stroke="#2a9dd6" stroke-width="1.0"/>
<line x1="432.50" y1="325.30" x2="432.50" y2="329.30" stroke="#2a9dd6" stroke-width="1.0"/>
<line x1="442.50" y1="325.30" x2="442.50" y2="329.30" stroke="#2a9dd6" stroke-width="1.0"/>
<line x1="452.50" y1="325.30" x2="452.50" y2="329.30" stroke="#2a9dd6" stroke-width="1.0"/>
<line x1="456.50" y1="325.30" x2="456.50" y2="329.30" stroke="#2a9dd6" stroke-width="1.0"/>
<line x1="460.50" y1="325.30" x2="460.50" y2="329.30" stroke="#2a9dd6" stroke-width="1.0"/>
<line x1="462.50" y1="325.30" x2="462.50" y2="329.30" stroke="#2a9dd6" stroke-width="1.0"/>
<line x1="467.50" y1="325.30" x2="467.50" y2="329.30" stroke="#2a9dd6" stroke-width="1.0"/>
<line x1="470.50" y1="325.30" x2="470.50" y2="329.30" stroke="#2a9dd6" stroke-width="1.0"/>
<line x1="472.50" y1="325.30" x2="472.50" y2="329.30" stroke="#2a9dd6" stroke-width="1.0"/>
<line x1="388.50" y1="323.00" x2="388.50" y2="327.00" stroke="#2a9dd6" stroke-width="1.0"/>
<line x1="394.50" y1="323.50" x2="394.50" y2="327.50" stroke="#2a9dd6" stroke-width="1.0"/>
<path d="M331.50,270.60 L331.90,270.60 L331.90,274.37 L332.30,274.37 L332.30,278.13 L332.70,278.13 L332.70,281.90 L333.47,281.90 L333.47,285.77 L334.23,285.77 L334.23,289.63 L335.00,289.63 L335.00,293.50 L338.50,293.50 L338.50,298.10 L339.42,298.10 L339.42,302.02 L340.34,302.02 L340.34,305.94 L341.26,305.94 L341.26,309.86 L342.18,309.86 L342.18,313.78 L343.10,313.78 L343.10,317.70 L343.65,317.70 L343.65,322.30 L344.20,322.30 L344.20,326.90 L346.50,326.90 L346.50,329.20 L348.80,329.20 L348.80,331.50 L350.55,331.50 L350.55,335.00 L352.30,335.00 L352.30,338.50 L378.80,338.50 L381.20,338.50 L381.20,341.90 L383.50,341.90 L383.50,345.80 L428.50,345.80" fill="none" stroke="#b0113a" stroke-width="1.9" stroke-dasharray="3.4,2.9"/>
<line x1="367.50" y1="336.20" x2="367.50" y2="340.80" stroke="#b0113a" stroke-width="1.1"/>
<line x1="412.50" y1="343.50" x2="412.50" y2="348.10" stroke="#b0113a" stroke-width="1.1"/>
<line x1="428.50" y1="343.50" x2="428.50" y2="348.10" stroke="#b0113a" stroke-width="1.1"/>
<text x="6.60" y="470.70" font-size="11" font-weight="bold" fill="#111">D</text>
<text x="87.20" y="484.70" font-size="10.5" fill="#333" textLength="146.40" lengthAdjust="spacingAndGlyphs">Overall survival (ELN Intermediate)</text>
<text x="145.80" y="499.40" font-size="8.0" fill="#333" textLength="100.80" lengthAdjust="spacingAndGlyphs">HR: 0.59 (95% CI: 0.33-1.03)</text>
<text x="173.00" y="508.60" font-size="8.0" fill="#333" textLength="46.60" lengthAdjust="spacingAndGlyphs"><tspan font-style="italic">P</tspan>-value: .059</text>
<line x1="65.90" y1="489.50" x2="65.90" y2="587.30" stroke="#222" stroke-width="1.1"/>
<line x1="65.40" y1="587.30" x2="256.66" y2="587.30" stroke="#222" stroke-width="1.1"/>
<line x1="62.90" y1="587.30" x2="65.90" y2="587.30" stroke="#222" stroke-width="1"/>
<text x="49.00" y="590.00" font-size="7.9" fill="#333" textLength="10.80" lengthAdjust="spacingAndGlyphs">0%</text>
<line x1="62.90" y1="577.82" x2="65.90" y2="577.82" stroke="#222" stroke-width="1"/>
<text x="44.30" y="580.52" font-size="7.9" fill="#333" textLength="15.50" lengthAdjust="spacingAndGlyphs">10%</text>
<line x1="62.90" y1="568.34" x2="65.90" y2="568.34" stroke="#222" stroke-width="1"/>
<text x="44.30" y="571.04" font-size="7.9" fill="#333" textLength="15.50" lengthAdjust="spacingAndGlyphs">20%</text>
<line x1="62.90" y1="558.86" x2="65.90" y2="558.86" stroke="#222" stroke-width="1"/>
<text x="44.30" y="561.56" font-size="7.9" fill="#333" textLength="15.50" lengthAdjust="spacingAndGlyphs">30%</text>
<line x1="62.90" y1="549.38" x2="65.90" y2="549.38" stroke="#222" stroke-width="1"/>
<text x="44.30" y="552.08" font-size="7.9" fill="#333" textLength="15.50" lengthAdjust="spacingAndGlyphs">40%</text>
<line x1="62.90" y1="539.90" x2="65.90" y2="539.90" stroke="#222" stroke-width="1"/>
<text x="44.30" y="542.60" font-size="7.9" fill="#333" textLength="15.50" lengthAdjust="spacingAndGlyphs">50%</text>
<line x1="62.90" y1="530.42" x2="65.90" y2="530.42" stroke="#222" stroke-width="1"/>
<text x="44.30" y="533.12" font-size="7.9" fill="#333" textLength="15.50" lengthAdjust="spacingAndGlyphs">60%</text>
<line x1="62.90" y1="520.94" x2="65.90" y2="520.94" stroke="#222" stroke-width="1"/>
<text x="44.30" y="523.64" font-size="7.9" fill="#333" textLength="15.50" lengthAdjust="spacingAndGlyphs">70%</text>
<line x1="62.90" y1="511.46" x2="65.90" y2="511.46" stroke="#222" stroke-width="1"/>
<text x="44.30" y="514.16" font-size="7.9" fill="#333" textLength="15.50" lengthAdjust="spacingAndGlyphs">80%</text>
<line x1="62.90" y1="501.98" x2="65.90" y2="501.98" stroke="#222" stroke-width="1"/>
<text x="44.30" y="504.68" font-size="7.9" fill="#333" textLength="15.50" lengthAdjust="spacingAndGlyphs">90%</text>
<line x1="62.90" y1="492.50" x2="65.90" y2="492.50" stroke="#222" stroke-width="1"/>
<text x="40.50" y="495.20" font-size="7.9" fill="#333" textLength="19.30" lengthAdjust="spacingAndGlyphs">100%</text>
<line x1="74.30" y1="587.30" x2="74.30" y2="590.50" stroke="#222" stroke-width="1"/>
<text x="74.30" y="600.40" font-size="8.2" fill="#333" text-anchor="middle">0</text>
<line x1="95.92" y1="587.30" x2="95.92" y2="590.50" stroke="#222" stroke-width="1"/>
<text x="95.92" y="600.40" font-size="8.2" fill="#333" text-anchor="middle">6</text>
<line x1="117.55" y1="587.30" x2="117.55" y2="590.50" stroke="#222" stroke-width="1"/>
<text x="117.55" y="600.40" font-size="8.2" fill="#333" text-anchor="middle">12</text>
<line x1="139.17" y1="587.30" x2="139.17" y2="590.50" stroke="#222" stroke-width="1"/>
<text x="139.17" y="600.40" font-size="8.2" fill="#333" text-anchor="middle">18</text>
<line x1="160.80" y1="587.30" x2="160.80" y2="590.50" stroke="#222" stroke-width="1"/>
<text x="160.80" y="600.40" font-size="8.2" fill="#333" text-anchor="middle">24</text>
<line x1="182.42" y1="587.30" x2="182.42" y2="590.50" stroke="#222" stroke-width="1"/>
<text x="182.42" y="600.40" font-size="8.2" fill="#333" text-anchor="middle">30</text>
<line x1="204.04" y1="587.30" x2="204.04" y2="590.50" stroke="#222" stroke-width="1"/>
<text x="204.04" y="600.40" font-size="8.2" fill="#333" text-anchor="middle">36</text>
<line x1="225.67" y1="587.30" x2="225.67" y2="590.50" stroke="#222" stroke-width="1"/>
<text x="225.67" y="600.40" font-size="8.2" fill="#333" text-anchor="middle">42</text>
<line x1="247.29" y1="587.30" x2="247.29" y2="590.50" stroke="#222" stroke-width="1"/>
<text x="247.29" y="600.40" font-size="8.2" fill="#333" text-anchor="middle">48</text>
<text x="0" y="0" font-size="9" fill="#333" text-anchor="middle" textLength="56.8" lengthAdjust="spacingAndGlyphs" transform="translate(34.80,538.50) rotate(-90)">Percent surviving</text>
<text x="148.43" y="613.60" font-size="10.8" fill="#333" textLength="25.70" lengthAdjust="spacingAndGlyphs">Months</text>
<text x="100.10" y="624.90" font-size="8.0" fill="#333" textLength="23.90" lengthAdjust="spacingAndGlyphs">Group:</text>
<line x1="127.50" y1="622.50" x2="135.60" y2="622.50" stroke="#2a9dd6" stroke-width="2.0"/>
<line x1="131.55" y1="622.50" x2="131.55" y2="625.30" stroke="#2a9dd6" stroke-width="1.2"/>
<text x="137.60" y="624.90" font-size="8.0" fill="#333" textLength="30.90" lengthAdjust="spacingAndGlyphs">wild-type</text>
<line x1="175.00" y1="622.50" x2="183.70" y2="622.50" stroke="#b0113a" stroke-width="2.0" stroke-dasharray="3.4,1.2"/>
<line x1="179.35" y1="621.10" x2="179.35" y2="625.50" stroke="#b0113a" stroke-width="1.2"/>
<text x="186.60" y="624.90" font-size="8.0" fill="#333" textLength="34.60" lengthAdjust="spacingAndGlyphs"><tspan font-style="italic">NRAS</tspan> mut</text>
<text x="22.50" y="636.40" font-size="8.3" fill="#333" textLength="52.50" lengthAdjust="spacingAndGlyphs">Number at risk</text>
<text x="26.30" y="648.50" font-size="8.8" fill="#3fb1e3" textLength="33.30" lengthAdjust="spacingAndGlyphs">wild-type</text>
<text x="22.50" y="662.70" font-size="8.8" fill="#b8163e" textLength="37.10" lengthAdjust="spacingAndGlyphs"><tspan font-style="italic">NRAS</tspan> mut</text>
<text x="69.90" y="648.50" font-size="9.2" fill="#333" textLength="8.80" lengthAdjust="spacingAndGlyphs">47</text>
<text x="91.52" y="648.50" font-size="9.2" fill="#333" textLength="8.80" lengthAdjust="spacingAndGlyphs">26</text>
<text x="113.15" y="648.50" font-size="9.2" fill="#333" textLength="8.80" lengthAdjust="spacingAndGlyphs">15</text>
<text x="134.77" y="648.50" font-size="9.2" fill="#333" textLength="8.80" lengthAdjust="spacingAndGlyphs">10</text>
<text x="158.60" y="648.50" font-size="9.2" fill="#333" textLength="4.40" lengthAdjust="spacingAndGlyphs">6</text>
<text x="180.22" y="648.50" font-size="9.2" fill="#333" textLength="4.40" lengthAdjust="spacingAndGlyphs">4</text>
<text x="201.84" y="648.50" font-size="9.2" fill="#333" textLength="4.40" lengthAdjust="spacingAndGlyphs">2</text>
<text x="223.47" y="648.50" font-size="9.2" fill="#333" textLength="4.40" lengthAdjust="spacingAndGlyphs">2</text>
<text x="245.09" y="648.50" font-size="9.2" fill="#333" textLength="4.40" lengthAdjust="spacingAndGlyphs">2</text>
<text x="69.90" y="662.70" font-size="9.2" fill="#333" textLength="8.80" lengthAdjust="spacingAndGlyphs">41</text>
<text x="91.52" y="662.70" font-size="9.2" fill="#333" textLength="8.80" lengthAdjust="spacingAndGlyphs">27</text>
<text x="113.15" y="662.70" font-size="9.2" fill="#333" textLength="8.80" lengthAdjust="spacingAndGlyphs">22</text>
<text x="134.77" y="662.70" font-size="9.2" fill="#333" textLength="8.80" lengthAdjust="spacingAndGlyphs">13</text>
<text x="156.40" y="662.70" font-size="9.2" fill="#333" textLength="8.80" lengthAdjust="spacingAndGlyphs">11</text>
<text x="178.02" y="662.70" font-size="9.2" fill="#333" textLength="8.80" lengthAdjust="spacingAndGlyphs">10</text>
<text x="201.84" y="662.70" font-size="9.2" fill="#333" textLength="4.40" lengthAdjust="spacingAndGlyphs">8</text>
<text x="223.47" y="662.70" font-size="9.2" fill="#333" textLength="4.40" lengthAdjust="spacingAndGlyphs">4</text>
<text x="245.09" y="662.70" font-size="9.2" fill="#333" textLength="4.40" lengthAdjust="spacingAndGlyphs">4</text>
<line x1="74.40" y1="539.50" x2="130.50" y2="539.50" stroke="#5a5a5a" stroke-width="1.2" stroke-dasharray="3.3,3.1"/>
<line x1="105.50" y1="539.50" x2="105.50" y2="587.30" stroke="#5a5a5a" stroke-width="1.2" stroke-dasharray="3.3,3.1"/>
<line x1="130.50" y1="539.50" x2="130.50" y2="587.30" stroke="#5a5a5a" stroke-width="1.2" stroke-dasharray="3.3,3.1"/>
<path d="M74.40,492.50 L74.90,492.50 L74.90,495.95 L75.40,495.95 L75.40,499.40 L77.30,499.40 L77.30,502.30 L79.20,502.30 L79.20,505.20 L80.20,505.20 L80.20,508.10 L82.10,508.10 L82.10,513.80 L84.00,513.80 L84.00,517.70 L86.00,517.70 L86.00,520.60 L88.80,520.60 L88.80,524.40 L91.70,524.40 L91.70,528.30 L94.60,528.30 L94.60,532.10 L96.55,532.10 L96.55,533.05 L98.50,533.05 L98.50,534.00 L100.90,534.00 L100.90,534.70 L103.30,534.70 L103.30,535.40 L105.20,535.40 L105.20,539.80 L108.10,539.80 L108.10,542.70 L111.00,542.70 L111.00,545.60 L113.80,545.60 L113.80,547.50 L116.70,547.50 L116.70,550.40 L118.97,550.40 L118.97,550.53 L121.23,550.53 L121.23,550.67 L123.50,550.67 L123.50,550.80 L124.90,550.80 L124.90,554.45 L126.30,554.45 L126.30,558.10 L142.70,558.10 L143.70,558.10 L143.70,561.50 L255.40,561.50" fill="none" stroke="#2a9dd6" stroke-width="1.5" stroke-linejoin="miter"/>
<line x1="157.50" y1="559.50" x2="157.50" y2="563.50" stroke="#2a9dd6" stroke-width="1.0"/>
<line x1="175.50" y1="559.50" x2="175.50" y2="563.50" stroke="#2a9dd6" stroke-width="1.0"/>
<line x1="176.50" y1="559.50" x2="176.50" y2="563.50" stroke="#2a9dd6" stroke-width="1.0"/>
<line x1="195.50" y1="559.50" x2="195.50" y2="563.50" stroke="#2a9dd6" stroke-width="1.0"/>
<line x1="199.50" y1="559.50" x2="199.50" y2="563.50" stroke="#2a9dd6" stroke-width="1.0"/>
<path d="M74.40,492.70 L75.40,492.70 L75.40,496.50 L77.30,496.50 L77.30,497.50 L79.20,497.50 L79.20,502.30 L81.20,502.30 L81.20,505.20 L83.10,505.20 L83.10,508.10 L86.00,508.10 L86.00,511.90 L89.80,511.90 L89.80,515.80 L92.70,515.80 L92.70,520.60 L95.10,520.60 L95.10,522.05 L97.50,522.05 L97.50,523.50 L101.30,523.50 L101.30,526.30 L103.75,526.30 L103.75,528.25 L106.20,528.25 L106.20,530.20 L109.05,530.20 L109.05,531.45 L111.90,531.45 L111.90,532.70 L114.80,532.70 L114.80,533.65 L117.70,533.65 L117.70,534.60 L120.60,534.60 L120.60,535.75 L123.50,535.75 L123.50,536.90 L127.30,536.90 L127.30,538.50 L130.20,538.50 L130.20,540.80 L253.00,540.80" fill="none" stroke="#b0113a" stroke-width="1.9" stroke-dasharray="3.4,2.9"/>
<line x1="127.50" y1="536.70" x2="127.50" y2="541.30" stroke="#b0113a" stroke-width="1.1"/>
<line x1="133.50" y1="538.40" x2="133.50" y2="543.00" stroke="#b0113a" stroke-width="1.1"/>
<line x1="136.50" y1="538.40" x2="136.50" y2="543.00" stroke="#b0113a" stroke-width="1.1"/>
<line x1="142.50" y1="538.40" x2="142.50" y2="543.00" stroke="#b0113a" stroke-width="1.1"/>
<line x1="155.50" y1="538.40" x2="155.50" y2="543.00" stroke="#b0113a" stroke-width="1.1"/>
<line x1="169.50" y1="538.40" x2="169.50" y2="543.00" stroke="#b0113a" stroke-width="1.1"/>
<line x1="171.50" y1="538.40" x2="171.50" y2="543.00" stroke="#b0113a" stroke-width="1.1"/>
<line x1="182.50" y1="538.40" x2="182.50" y2="543.00" stroke="#b0113a" stroke-width="1.1"/>
<line x1="186.50" y1="538.40" x2="186.50" y2="543.00" stroke="#b0113a" stroke-width="1.1"/>
<line x1="200.50" y1="538.40" x2="200.50" y2="543.00" stroke="#b0113a" stroke-width="1.1"/>
<line x1="204.50" y1="538.40" x2="204.50" y2="543.00" stroke="#b0113a" stroke-width="1.1"/>
<line x1="207.50" y1="538.40" x2="207.50" y2="543.00" stroke="#b0113a" stroke-width="1.1"/>
<line x1="213.50" y1="538.40" x2="213.50" y2="543.00" stroke="#b0113a" stroke-width="1.1"/>
<line x1="215.50" y1="538.40" x2="215.50" y2="543.00" stroke="#b0113a" stroke-width="1.1"/>
<text x="271.60" y="470.70" font-size="11" font-weight="bold" fill="#111">E</text>
<text x="355.30" y="484.70" font-size="10.5" fill="#333" textLength="125.10" lengthAdjust="spacingAndGlyphs">Overall survival (ELN Fav/Int.)</text>
<text x="403.00" y="499.40" font-size="8.0" fill="#333" textLength="100.50" lengthAdjust="spacingAndGlyphs">HR: 2.20 (95% CI: 1.27-3.81)</text>
<text x="430.80" y="508.90" font-size="8.0" fill="#333" textLength="45.40" lengthAdjust="spacingAndGlyphs"><tspan font-style="italic">P</tspan>-value: .005</text>
<line x1="322.70" y1="489.50" x2="322.70" y2="587.30" stroke="#222" stroke-width="1.1"/>
<line x1="322.20" y1="587.30" x2="513.26" y2="587.30" stroke="#222" stroke-width="1.1"/>
<line x1="319.70" y1="587.30" x2="322.70" y2="587.30" stroke="#222" stroke-width="1"/>
<text x="305.80" y="590.00" font-size="7.9" fill="#333" textLength="10.80" lengthAdjust="spacingAndGlyphs">0%</text>
<line x1="319.70" y1="577.82" x2="322.70" y2="577.82" stroke="#222" stroke-width="1"/>
<text x="301.10" y="580.52" font-size="7.9" fill="#333" textLength="15.50" lengthAdjust="spacingAndGlyphs">10%</text>
<line x1="319.70" y1="568.34" x2="322.70" y2="568.34" stroke="#222" stroke-width="1"/>
<text x="301.10" y="571.04" font-size="7.9" fill="#333" textLength="15.50" lengthAdjust="spacingAndGlyphs">20%</text>
<line x1="319.70" y1="558.86" x2="322.70" y2="558.86" stroke="#222" stroke-width="1"/>
<text x="301.10" y="561.56" font-size="7.9" fill="#333" textLength="15.50" lengthAdjust="spacingAndGlyphs">30%</text>
<line x1="319.70" y1="549.38" x2="322.70" y2="549.38" stroke="#222" stroke-width="1"/>
<text x="301.10" y="552.08" font-size="7.9" fill="#333" textLength="15.50" lengthAdjust="spacingAndGlyphs">40%</text>
<line x1="319.70" y1="539.90" x2="322.70" y2="539.90" stroke="#222" stroke-width="1"/>
<text x="301.10" y="542.60" font-size="7.9" fill="#333" textLength="15.50" lengthAdjust="spacingAndGlyphs">50%</text>
<line x1="319.70" y1="530.42" x2="322.70" y2="530.42" stroke="#222" stroke-width="1"/>
<text x="301.10" y="533.12" font-size="7.9" fill="#333" textLength="15.50" lengthAdjust="spacingAndGlyphs">60%</text>
<line x1="319.70" y1="520.94" x2="322.70" y2="520.94" stroke="#222" stroke-width="1"/>
<text x="301.10" y="523.64" font-size="7.9" fill="#333" textLength="15.50" lengthAdjust="spacingAndGlyphs">70%</text>
<line x1="319.70" y1="511.46" x2="322.70" y2="511.46" stroke="#222" stroke-width="1"/>
<text x="301.10" y="514.16" font-size="7.9" fill="#333" textLength="15.50" lengthAdjust="spacingAndGlyphs">80%</text>
<line x1="319.70" y1="501.98" x2="322.70" y2="501.98" stroke="#222" stroke-width="1"/>
<text x="301.10" y="504.68" font-size="7.9" fill="#333" textLength="15.50" lengthAdjust="spacingAndGlyphs">90%</text>
<line x1="319.70" y1="492.50" x2="322.70" y2="492.50" stroke="#222" stroke-width="1"/>
<text x="297.30" y="495.20" font-size="7.9" fill="#333" textLength="19.30" lengthAdjust="spacingAndGlyphs">100%</text>
<line x1="331.50" y1="587.30" x2="331.50" y2="590.50" stroke="#222" stroke-width="1"/>
<text x="331.50" y="600.40" font-size="8.2" fill="#333" text-anchor="middle">0</text>
<line x1="353.05" y1="587.30" x2="353.05" y2="590.50" stroke="#222" stroke-width="1"/>
<text x="353.05" y="600.40" font-size="8.2" fill="#333" text-anchor="middle">6</text>
<line x1="374.60" y1="587.30" x2="374.60" y2="590.50" stroke="#222" stroke-width="1"/>
<text x="374.60" y="600.40" font-size="8.2" fill="#333" text-anchor="middle">12</text>
<line x1="396.16" y1="587.30" x2="396.16" y2="590.50" stroke="#222" stroke-width="1"/>
<text x="396.16" y="600.40" font-size="8.2" fill="#333" text-anchor="middle">18</text>
<line x1="417.71" y1="587.30" x2="417.71" y2="590.50" stroke="#222" stroke-width="1"/>
<text x="417.71" y="600.40" font-size="8.2" fill="#333" text-anchor="middle">24</text>
<line x1="439.26" y1="587.30" x2="439.26" y2="590.50" stroke="#222" stroke-width="1"/>
<text x="439.26" y="600.40" font-size="8.2" fill="#333" text-anchor="middle">30</text>
<line x1="460.81" y1="587.30" x2="460.81" y2="590.50" stroke="#222" stroke-width="1"/>
<text x="460.81" y="600.40" font-size="8.2" fill="#333" text-anchor="middle">36</text>
<line x1="482.36" y1="587.30" x2="482.36" y2="590.50" stroke="#222" stroke-width="1"/>
<text x="482.36" y="600.40" font-size="8.2" fill="#333" text-anchor="middle">42</text>
<line x1="503.92" y1="587.30" x2="503.92" y2="590.50" stroke="#222" stroke-width="1"/>
<text x="503.92" y="600.40" font-size="8.2" fill="#333" text-anchor="middle">48</text>
<text x="0" y="0" font-size="9" fill="#333" text-anchor="middle" textLength="56.8" lengthAdjust="spacingAndGlyphs" transform="translate(291.80,538.50) rotate(-90)">Percent surviving</text>
<text x="405.13" y="613.60" font-size="10.8" fill="#333" textLength="25.70" lengthAdjust="spacingAndGlyphs">Months</text>
<text x="354.40" y="624.80" font-size="8.0" fill="#333" textLength="22.40" lengthAdjust="spacingAndGlyphs">Group:</text>
<line x1="380.00" y1="622.40" x2="388.60" y2="622.40" stroke="#2a9dd6" stroke-width="2.0"/>
<line x1="384.30" y1="622.40" x2="384.30" y2="625.20" stroke="#2a9dd6" stroke-width="1.2"/>
<text x="391.30" y="624.80" font-size="8.0" fill="#333" textLength="31.20" lengthAdjust="spacingAndGlyphs">wild-type</text>
<line x1="428.50" y1="622.40" x2="436.50" y2="622.40" stroke="#b0113a" stroke-width="2.0" stroke-dasharray="3.4,1.2"/>
<line x1="432.50" y1="621.00" x2="432.50" y2="625.40" stroke="#b0113a" stroke-width="1.2"/>
<text x="439.80" y="624.80" font-size="8.0" fill="#333" textLength="42.00" lengthAdjust="spacingAndGlyphs"><tspan font-style="italic">PTPN11</tspan> mut</text>
<text x="271.80" y="636.40" font-size="8.3" fill="#333" textLength="52.50" lengthAdjust="spacingAndGlyphs">Number at risk</text>
<text x="283.60" y="648.50" font-size="8.8" fill="#3fb1e3" textLength="32.80" lengthAdjust="spacingAndGlyphs">wild-type</text>
<text x="271.80" y="662.70" font-size="8.8" fill="#b8163e" textLength="44.60" lengthAdjust="spacingAndGlyphs"><tspan font-style="italic">PTPN11</tspan> mut</text>
<text x="324.90" y="648.50" font-size="9.2" fill="#333" textLength="13.20" lengthAdjust="spacingAndGlyphs">184</text>
<text x="346.45" y="648.50" font-size="9.2" fill="#333" textLength="13.20" lengthAdjust="spacingAndGlyphs">127</text>
<text x="370.20" y="648.50" font-size="9.2" fill="#333" textLength="8.80" lengthAdjust="spacingAndGlyphs">84</text>
<text x="391.76" y="648.50" font-size="9.2" fill="#333" textLength="8.80" lengthAdjust="spacingAndGlyphs">58</text>
<text x="413.31" y="648.50" font-size="9.2" fill="#333" textLength="8.80" lengthAdjust="spacingAndGlyphs">42</text>
<text x="434.86" y="648.50" font-size="9.2" fill="#333" textLength="8.80" lengthAdjust="spacingAndGlyphs">37</text>
<text x="456.41" y="648.50" font-size="9.2" fill="#333" textLength="8.80" lengthAdjust="spacingAndGlyphs">24</text>
<text x="477.96" y="648.50" font-size="9.2" fill="#333" textLength="8.80" lengthAdjust="spacingAndGlyphs">16</text>
<text x="499.52" y="648.50" font-size="9.2" fill="#333" textLength="8.80" lengthAdjust="spacingAndGlyphs">12</text>
<text x="327.10" y="662.70" font-size="9.2" fill="#333" textLength="8.80" lengthAdjust="spacingAndGlyphs">20</text>
<text x="350.85" y="662.70" font-size="9.2" fill="#333" textLength="4.40" lengthAdjust="spacingAndGlyphs">7</text>
<text x="372.40" y="662.70" font-size="9.2" fill="#333" textLength="4.40" lengthAdjust="spacingAndGlyphs">5</text>
<text x="393.96" y="662.70" font-size="9.2" fill="#333" textLength="4.40" lengthAdjust="spacingAndGlyphs">3</text>
<text x="415.51" y="662.70" font-size="9.2" fill="#333" textLength="4.40" lengthAdjust="spacingAndGlyphs">1</text>
<text x="437.06" y="662.70" font-size="9.2" fill="#333" textLength="4.40" lengthAdjust="spacingAndGlyphs">1</text>
<text x="458.61" y="662.70" font-size="9.2" fill="#333" textLength="4.40" lengthAdjust="spacingAndGlyphs">0</text>
<text x="480.16" y="662.70" font-size="9.2" fill="#333" textLength="4.40" lengthAdjust="spacingAndGlyphs">0</text>
<text x="501.72" y="662.70" font-size="9.2" fill="#333" textLength="4.40" lengthAdjust="spacingAndGlyphs">0</text>
<line x1="331.20" y1="539.50" x2="389.50" y2="539.50" stroke="#5a5a5a" stroke-width="1.2" stroke-dasharray="3.3,3.1"/>
<line x1="349.50" y1="539.50" x2="349.50" y2="587.30" stroke="#5a5a5a" stroke-width="1.2" stroke-dasharray="3.3,3.1"/>
<line x1="389.50" y1="539.50" x2="389.50" y2="587.30" stroke="#5a5a5a" stroke-width="1.2" stroke-dasharray="3.3,3.1"/>
<path d="M331.50,492.50 L334.00,492.50 L334.00,498.00 L337.00,498.00 L337.00,502.00 L339.50,502.00 L339.50,504.00 L342.00,504.00 L342.00,506.00 L345.00,506.00 L345.00,508.50 L348.00,508.50 L348.00,511.00 L351.00,511.00 L351.00,513.50 L354.00,513.50 L354.00,516.00 L357.00,516.00 L357.00,518.50 L360.00,518.50 L360.00,521.00 L362.00,521.00 L362.00,523.00 L364.00,523.00 L364.00,525.00 L367.00,525.00 L367.00,527.00 L370.00,527.00 L370.00,529.00 L372.33,529.00 L372.33,530.33 L374.67,530.33 L374.67,531.67 L377.00,531.67 L377.00,533.00 L380.00,533.00 L380.00,534.50 L383.00,534.50 L383.00,536.00 L385.33,536.00 L385.33,537.00 L387.67,537.00 L387.67,538.00 L390.00,538.00 L390.00,539.00 L392.33,539.00 L392.33,540.00 L394.67,540.00 L394.67,541.00 L397.00,541.00 L397.00,542.00 L399.33,542.00 L399.33,543.00 L401.67,543.00 L401.67,544.00 L404.00,544.00 L404.00,545.00 L407.00,545.00 L407.00,546.50 L410.00,546.50 L410.00,548.00 L412.00,548.00 L412.00,548.75 L414.00,548.75 L414.00,549.50 L445.00,549.50 L446.00,549.50 L446.00,551.00 L448.50,551.00 L448.50,551.15 L451.00,551.15 L451.00,551.30 L453.50,551.30 L453.50,551.45 L456.00,551.45 L456.00,551.60 L458.50,551.60 L458.50,551.75 L461.00,551.75 L461.00,551.90 L463.50,551.90 L463.50,552.05 L466.00,552.05 L466.00,552.20 L468.50,552.20 L468.50,552.35 L471.00,552.35 L471.00,552.50 L472.00,552.50 L472.00,554.50 L474.50,554.50 L474.50,554.55 L477.00,554.55 L477.00,554.60 L479.50,554.60 L479.50,554.65 L482.00,554.65 L482.00,554.70 L484.50,554.70 L484.50,554.75 L487.00,554.75 L487.00,554.80 L489.50,554.80 L489.50,554.85 L492.00,554.85 L492.00,554.90 L494.50,554.90 L494.50,554.95 L497.00,554.95 L497.00,555.00 L498.00,555.00 L498.00,557.00 L513.00,557.00" fill="none" stroke="#2a9dd6" stroke-width="2.3" stroke-linejoin="miter"/>
<line x1="420.50" y1="547.50" x2="420.50" y2="551.50" stroke="#2a9dd6" stroke-width="1.0"/>
<line x1="425.50" y1="547.50" x2="425.50" y2="551.50" stroke="#2a9dd6" stroke-width="1.0"/>
<line x1="428.50" y1="547.50" x2="428.50" y2="551.50" stroke="#2a9dd6" stroke-width="1.0"/>
<line x1="432.50" y1="547.50" x2="432.50" y2="551.50" stroke="#2a9dd6" stroke-width="1.0"/>
<line x1="440.50" y1="547.50" x2="440.50" y2="551.50" stroke="#2a9dd6" stroke-width="1.0"/>
<line x1="450.50" y1="549.00" x2="450.50" y2="553.00" stroke="#2a9dd6" stroke-width="1.0"/>
<line x1="455.50" y1="549.00" x2="455.50" y2="553.00" stroke="#2a9dd6" stroke-width="1.0"/>
<line x1="458.50" y1="550.00" x2="458.50" y2="554.00" stroke="#2a9dd6" stroke-width="1.0"/>
<line x1="462.50" y1="550.50" x2="462.50" y2="554.50" stroke="#2a9dd6" stroke-width="1.0"/>
<line x1="466.50" y1="550.50" x2="466.50" y2="554.50" stroke="#2a9dd6" stroke-width="1.0"/>
<line x1="480.50" y1="552.50" x2="480.50" y2="556.50" stroke="#2a9dd6" stroke-width="1.0"/>
<line x1="487.50" y1="552.50" x2="487.50" y2="556.50" stroke="#2a9dd6" stroke-width="1.0"/>
<line x1="492.50" y1="552.50" x2="492.50" y2="556.50" stroke="#2a9dd6" stroke-width="1.0"/>
<line x1="508.50" y1="555.00" x2="508.50" y2="559.00" stroke="#2a9dd6" stroke-width="1.0"/>
<path d="M331.50,492.50 L333.50,492.50 L333.50,497.50 L336.20,497.50 L336.20,503.50 L338.10,503.50 L338.10,507.33 L340.00,507.33 L340.00,511.17 L341.90,511.17 L341.90,515.00 L343.65,515.00 L343.65,518.45 L345.40,518.45 L345.40,521.90 L346.55,521.90 L346.55,526.55 L347.70,526.55 L347.70,531.20 L348.25,531.20 L348.25,535.80 L348.80,535.80 L348.80,540.40 L349.40,540.40 L349.40,545.00 L350.00,545.00 L350.00,549.60 L353.50,549.60 L353.50,555.40 L356.90,555.40 L356.90,557.70 L359.80,557.70 L359.80,558.25 L362.70,558.25 L362.70,558.80 L365.00,558.80 L365.00,561.90 L367.88,561.90 L367.88,562.00 L370.75,562.00 L370.75,562.10 L373.62,562.10 L373.62,562.20 L376.50,562.20 L376.50,562.30 L377.70,562.30 L377.70,566.90 L442.70,566.90" fill="none" stroke="#b0113a" stroke-width="1.9" stroke-dasharray="3.4,2.9"/>
<line x1="342.50" y1="514.70" x2="342.50" y2="519.30" stroke="#b0113a" stroke-width="1.1"/>
<line x1="392.50" y1="564.60" x2="392.50" y2="569.20" stroke="#b0113a" stroke-width="1.1"/>
<line x1="398.50" y1="564.60" x2="398.50" y2="569.20" stroke="#b0113a" stroke-width="1.1"/>
<line x1="400.50" y1="564.60" x2="400.50" y2="569.20" stroke="#b0113a" stroke-width="1.1"/>
<line x1="442.50" y1="564.60" x2="442.50" y2="569.20" stroke="#b0113a" stroke-width="1.1"/>
<rect x="0.5" y="0.5" width="519" height="671" fill="none" stroke="#444" stroke-width="1"/>
</svg>
</body></html>
